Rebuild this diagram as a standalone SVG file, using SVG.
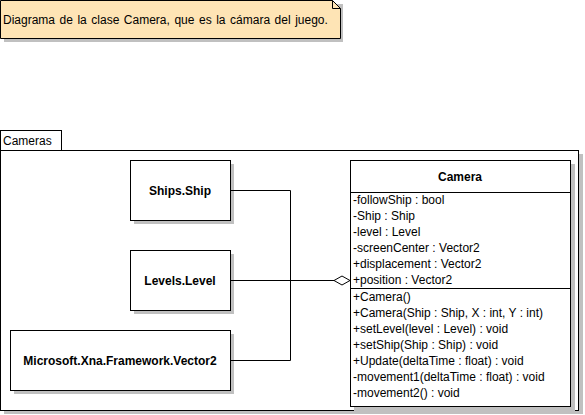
<svg xmlns="http://www.w3.org/2000/svg" width="585" height="415" viewBox="0 0 585 415">
<style>
.sh{fill:#c0c0c0}
.bx{fill:#fff;stroke:#000;stroke-width:1}
.t{font-family:"Liberation Sans",Arial,sans-serif;font-size:12px;fill:#000}
.b{font-family:"Liberation Sans",Arial,sans-serif;font-size:12px;font-weight:bold;fill:#000;text-anchor:middle}
.ln{fill:none;stroke:#000;stroke-width:1}
</style>
<rect width="585" height="415" fill="#fff"/>
<g id="note">
<rect class="sh" x="4" y="4" width="339" height="38"/>
<path d="M0.5,0.5 H332.5 L340.5,8.5 V38.5 H0.5 Z" fill="#fee4b5" stroke="#000"/>
<path d="M332.5,0.5 V8.5 H340.5" class="ln"/>
<text class="t" x="3" y="24" word-spacing="1.2">Diagrama de la clase Camera, que es la cámara del juego.</text>
</g>
<g id="Cameras">
<rect class="sh" x="4" y="154" width="579" height="260"/>
<rect class="bx" x="0.5" y="130.5" width="61" height="20"/>
<rect class="bx" x="0.5" y="150.5" width="578" height="260"/>
<text class="t" x="3" y="145">Cameras</text>
</g>
<g id="Ship">
<rect class="sh" x="134" y="164" width="100" height="60"/>
<rect class="bx" x="130.5" y="160.5" width="100" height="60"/>
<text class="b" x="180" y="195">Ships.Ship</text>
</g>
<g id="Level">
<rect class="sh" x="134" y="254" width="100" height="60"/>
<rect class="bx" x="130.5" y="250.5" width="100" height="60"/>
<text class="b" x="180" y="285">Levels.Level</text>
</g>
<g id="Vector2">
<rect class="sh" x="14" y="334" width="220" height="60"/>
<rect class="bx" x="10.5" y="330.5" width="220" height="60"/>
<text class="b" x="120" y="365">Microsoft.Xna.Framework.Vector2</text>
</g>
<g id="Camera">
<rect class="sh" x="354" y="164" width="221" height="247"/>
<rect class="bx" x="350.5" y="160.5" width="220" height="246"/>
<text class="b" x="460" y="181">Camera</text>
<line class="ln" x1="350.5" y1="192.5" x2="570.5" y2="192.5"/>
<line class="ln" x1="350.5" y1="288.5" x2="570.5" y2="288.5"/>
<text class="t" x="353" y="204">-followShip : bool</text>
<text class="t" x="353" y="220">-Ship : Ship</text>
<text class="t" x="353" y="236">-level : Level</text>
<text class="t" x="353" y="252">-screenCenter : Vector2</text>
<text class="t" x="353" y="268">+displacement : Vector2</text>
<text class="t" x="353" y="284">+position : Vector2</text>
<text class="t" x="353" y="301">+Camera()</text>
<text class="t" x="353" y="317">+Camera(Ship : Ship, X : int, Y : int)</text>
<text class="t" x="353" y="333">+setLevel(level : Level) : void</text>
<text class="t" x="353" y="349">+setShip(Ship : Ship) : void</text>
<text class="t" x="353" y="365">+Update(deltaTime : float) : void</text>
<text class="t" x="353" y="381">-movement1(deltaTime : float) : void</text>
<text class="t" x="353" y="397">-movement2() : void</text>
</g>
<g id="connectors">
<polyline class="ln" points="230.5,190.5 290.5,190.5 290.5,360.5 230.5,360.5"/>
<line class="ln" x1="230.5" y1="280.5" x2="334" y2="280.5"/>
<path d="M334,280.5 L342,276 L350,280.5 L342,285 Z" fill="#fff" stroke="#000"/>
</g>
</svg>
